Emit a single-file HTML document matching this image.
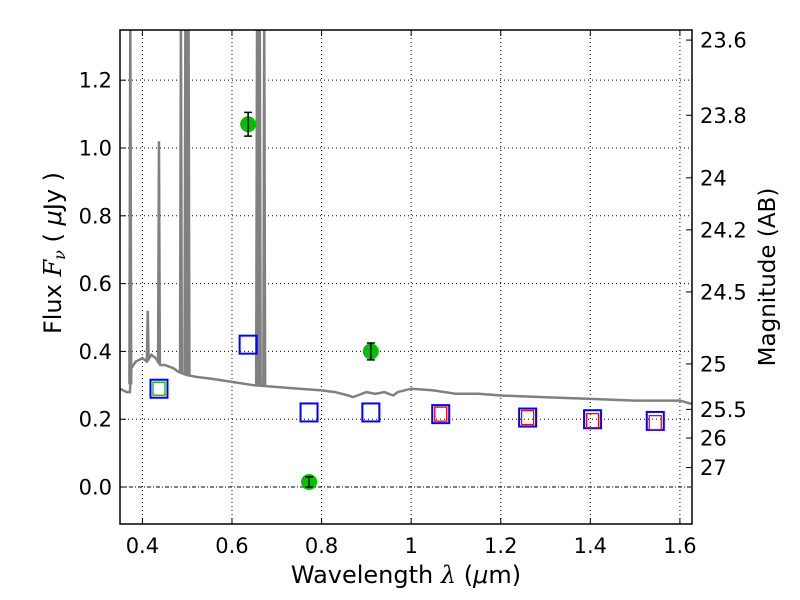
<!DOCTYPE html>
<html><head><meta charset="utf-8"><style>
body{margin:0;background:#fff;}
svg{display:block;font-family:"DejaVu Sans","Liberation Sans",sans-serif;}
</style></head><body>
<svg id="c" width="800" height="600"></svg>
<script>
const xTicks=[0.4,0.6,0.8,1.0,1.2,1.4,1.6];
const xTickLabels=["0.4","0.6","0.8","1","1.2","1.4","1.6"];
const yTicks=[0,0.2,0.4,0.6,0.8,1.0,1.2];
const yTickLabels=["0.0","0.2","0.4","0.6","0.8","1.0","1.2"];
const magTicks=[23.6,23.8,24,24.2,24.5,25,25.5,26,27];
const magLabels=["23.6","23.8","24","24.2","24.5","25","25.5","26","27"];
const specWave=[0.35,0.365,0.372,0.375,0.385,0.40,0.41,0.42,0.43,0.44,0.45,0.47,0.48,0.50,0.52,0.55,0.60,0.65,0.70,0.75,0.80,0.83,0.86,0.87,0.88,0.90,0.92,0.94,0.96,0.97,1.0,1.05,1.1,1.15,1.2,1.3,1.4,1.5,1.55,1.6,1.627];
const specFlux=[0.29,0.28,0.28,0.35,0.37,0.38,0.37,0.39,0.38,0.36,0.36,0.35,0.34,0.33,0.325,0.32,0.31,0.30,0.295,0.29,0.285,0.28,0.27,0.265,0.27,0.28,0.275,0.28,0.27,0.28,0.29,0.285,0.275,0.275,0.27,0.265,0.26,0.255,0.255,0.255,0.245];
const lineWave=[0.373,0.412,0.437,0.486,0.496,0.501,0.503,0.656,0.659,0.662,0.672];
const linePeak=[1.4,0.52,1.02,1.4,1.4,1.4,1.4,1.4,1.4,1.4,1.4];
const photWave=[0.636,0.772,0.91];
const photFlux=[1.07,0.015,0.40];
const photErr=[0.035,0.015,0.025];
const modelWave=[0.437,0.636,0.772,0.91,1.066,1.26,1.405,1.545];
const modelFlux=[0.29,0.42,0.22,0.22,0.215,0.205,0.2,0.195];
const nirWave=[1.066,1.26,1.405,1.545];
const nirFlux=[0.215,0.205,0.196,0.19];
const greenSqWave=[0.437];
const greenSqFlux=[0.29];

const L=120,R=692,T=30,B=524,x0=0.35,x1=1.627,y0=-0.109,y1=1.348;
const X=v=>L+(v-x0)/(x1-x0)*(R-L);
const Y=v=>B-(v-y0)/(y1-y0)*(B-T);
const svg=document.getElementById('c');
const NS="http://www.w3.org/2000/svg";
function el(t,a,p){const e=document.createElementNS(NS,t);for(const k in a)e.setAttribute(k,a[k]);(p||svg).appendChild(e);return e;}
const clip=el('clipPath',{id:'cl'});el('rect',{x:L,y:T,width:R-L,height:B-T},clip);
const g=el('g',{'clip-path':'url(#cl)'});
xTicks.forEach((t,i)=>{const l=el('line',{x1:X(t),x2:X(t),y1:T,y2:B,stroke:'#000','stroke-width':1,'stroke-dasharray':'1,3'},g);

});
yTicks.forEach((t,i)=>{const l=el('line',{x1:L,x2:R,y1:Y(t),y2:Y(t),stroke:'#000','stroke-width':1,'stroke-dasharray':t===0?'4,2,1,2':'1,3'},g);

});
let d=specWave.map((w,i)=>(i?'L':'M')+X(w).toFixed(1)+','+Y(specFlux[i]).toFixed(1)).join('');
const sp=el('path',{d:d,fill:'none',stroke:'#808080','stroke-width':2.5},g);


function interp(w){for(let i=1;i<specWave.length;i++){if(w<=specWave[i]){const f=(w-specWave[i-1])/(specWave[i]-specWave[i-1]);return specFlux[i-1]+f*(specFlux[i]-specFlux[i-1]);}}return specFlux[specFlux.length-1];}
lineWave.forEach((w,i)=>{const base=interp(w);
const p=el('path',{d:`M${X(w-0.002)},${Y(base)}L${X(w)},${Y(linePeak[i])}L${X(w+0.002)},${Y(base)}`,fill:'none',stroke:'#808080','stroke-width':2.5},g);

});
modelWave.forEach((w,i)=>{const r=el('rect',{x:X(w)-8.5,y:Y(modelFlux[i])-9,width:17,height:18,fill:'none',stroke:'#0000ff','stroke-width':2},g);

});
nirWave.forEach((w,i)=>{const r=el('rect',{x:X(w)-6,y:Y(nirFlux[i])-7,width:12,height:14,fill:'none',stroke:'#ff0000','stroke-width':1.3},g);

});
greenSqWave.forEach((w,i)=>{const r=el('rect',{x:X(w)-6,y:Y(greenSqFlux[i])-6.5,width:12,height:13,fill:'none',stroke:'#00bb00','stroke-width':1.3},g);

});
photWave.forEach((w,i)=>{const c=el('circle',{cx:X(w),cy:Y(photFlux[i]),r:8,fill:'#00c000'},g);


const x=X(w),ya=Y(photFlux[i]+photErr[i]),yb=Y(photFlux[i]-photErr[i]);
const e=el('path',{d:`M${x},${ya}L${x},${yb}M${x-4},${ya}L${x+4},${ya}M${x-4},${yb}L${x+4},${yb}`,stroke:'#000','stroke-width':1.5,fill:'none'},g);

});
const fr=el('rect',{x:L,y:T,width:R-L,height:B-T,fill:'none',stroke:'#000','stroke-width':1.5});


xTicks.forEach((t,i)=>{el('line',{x1:X(t),x2:X(t),y1:B,y2:B-6,stroke:'#000'});el('line',{x1:X(t),x2:X(t),y1:T,y2:T+6,stroke:'#000'});
const tx=el('text',{x:X(t),y:B+29,'text-anchor':'middle','font-size':21});tx.textContent=xTickLabels[i];

});
yTicks.forEach((t,i)=>{el('line',{x1:L,x2:L+6,y1:Y(t),y2:Y(t),stroke:'#000'});
const tx=el('text',{x:L-8,y:Y(t)+7.5,'text-anchor':'end','font-size':21});tx.textContent=yTickLabels[i];

});
magTicks.forEach((m,i)=>{const f=Math.pow(10,(23.9-m)/2.5);const y=Y(f);el('line',{x1:R,x2:R-6,y1:y,y2:y,stroke:'#000'});
const tx=el('text',{x:R+8,y:y+7.5,'font-size':21});tx.textContent=magLabels[i];

});
</script>
<svg style="position:absolute;left:0;top:0" width="800" height="600">
<text x="406" y="583" text-anchor="middle" font-size="24" font-family="DejaVu Sans,sans-serif">Wavelength  <tspan font-family="DejaVu Serif,serif" font-style="italic">λ</tspan> (<tspan font-style="italic">μ</tspan>m)</text>
<text transform="translate(61,253) rotate(-90)" text-anchor="middle" font-size="24" font-family="DejaVu Sans,sans-serif">Flux  <tspan font-family="DejaVu Serif,serif" font-style="italic">F</tspan><tspan font-family="DejaVu Serif,serif" font-style="italic" font-size="16" dy="4">ν</tspan><tspan dy="-4">  (  </tspan><tspan font-style="italic">μ</tspan>Jy )</text>
<text transform="translate(775,277) rotate(-90)" text-anchor="middle" font-size="23" font-family="DejaVu Sans,sans-serif">Magnitude (AB)</text>
</svg>
</body></html>
